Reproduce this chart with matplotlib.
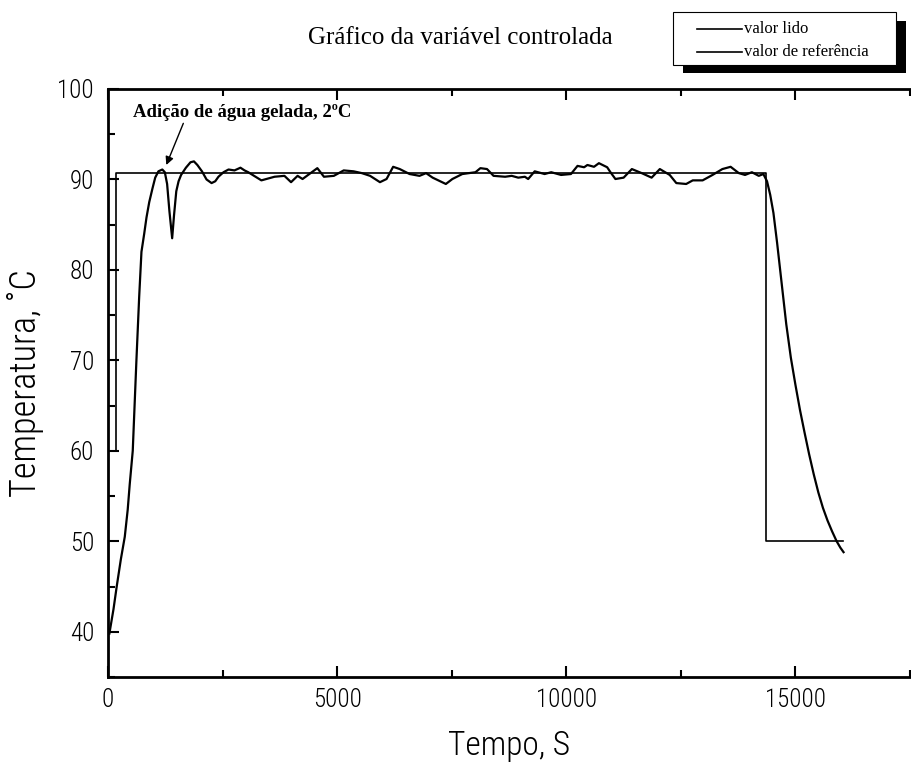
import matplotlib
matplotlib.use("Agg")
import matplotlib.pyplot as plt
from matplotlib.patches import Rectangle
from matplotlib.lines import Line2D

# setpoint (valor de referência)
ref_t = [0, 170, 170, 14350, 14350, 16030]
ref_T = [60, 60, 90.7, 90.7, 50, 50]

# measured temperature (valor lido)
meas_t = [30, 120, 190, 280, 366, 430, 474, 540, 580, 620, 680, 730, 790, 840,
          900, 970, 1030, 1100, 1185, 1240, 1290, 1340, 1400, 1440, 1490, 1540,
          1595, 1700, 1800, 1875, 1950, 2050, 2150, 2260, 2340, 2410, 2520,
          2630, 2760, 2890, 2980, 3060, 3347, 3634, 3850, 3994, 4137, 4245,
          4568, 4712, 4928, 5143, 5359, 5539, 5719, 5934, 6078, 6222, 6366,
          6581, 6797, 6941, 7084, 7372, 7515, 7731, 8018, 8126, 8270, 8413,
          8665, 8809, 8952, 9096, 9168, 9311, 9527, 9671, 9886, 10102, 10245,
          10389, 10461, 10605, 10712, 10892, 10964, 11072, 11251, 11431, 11646,
          11862, 12041, 12257, 12401, 12616, 12760, 12975, 13191, 13406, 13586,
          13765, 13900, 14050, 14200, 14300, 14380, 14450, 14520, 14600, 14700,
          14800, 14900, 15000, 15100, 15200, 15300, 15400, 15500, 15600, 15700,
          15800, 15900, 15980, 16050]
meas_T = [39.8, 42.5, 45.0, 48.0, 50.5, 53.5, 56.3, 60.0, 65.0, 70.0, 77.0,
          82.0, 84.0, 85.8, 87.5, 89.0, 90.2, 90.9, 91.1, 90.8, 89.5, 86.5,
          83.5, 86.0, 88.7, 89.8, 90.5, 91.3, 91.9, 92.0, 91.6, 90.9, 90.0,
          89.6, 89.8, 90.3, 90.8, 91.1, 91.0, 91.3, 91.0, 90.8, 89.9, 90.3,
          90.4, 89.7, 90.4, 90.05, 91.25, 90.3, 90.4, 91.0, 90.9, 90.7, 90.4,
          89.7, 90.05, 91.4, 91.15, 90.6, 90.4, 90.7, 90.2, 89.5, 90.05, 90.6,
          90.8, 91.25, 91.15, 90.4, 90.3, 90.4, 90.2, 90.3, 90.05, 90.9, 90.6,
          90.8, 90.5, 90.6, 91.5, 91.35, 91.6, 91.4, 91.8, 91.35, 90.8, 90.05,
          90.2, 91.15, 90.7, 90.2, 91.15, 90.5, 89.6, 89.5, 89.9, 89.9, 90.5,
          91.15, 91.4, 90.7, 90.5, 90.8, 90.4, 90.6, 89.8, 88.3, 86.3, 83.0,
          78.5, 74.0, 70.3, 67.3, 64.5, 62.0, 59.6, 57.4, 55.4, 53.7, 52.3,
          51.1, 50.0, 49.3, 48.8]

x_major = [0, 5000, 10000, 15000]
x_minor = [2500, 7500, 12500, 17500]
y_major = [40, 50, 60, 70, 80, 90, 100]
y_minor = [35, 45, 55, 65, 75, 85, 95]

W, H = 911, 767
narrow = ["Roboto Condensed", "Open Sans Condensed", "DejaVu Sans"]
serif = ["Liberation Serif", "DejaVu Serif"]


def fx(px):
    return px / W


def fy(py):
    return 1 - py / H


fig = plt.figure(figsize=(W / 100, H / 100), dpi=100)
ax = fig.add_axes([fx(108), fy(677), (910 - 108) / W, (677 - 89) / H])

ax.plot(ref_t, ref_T, color="black", lw=1.2)
ax.plot(meas_t, meas_T, color="black", lw=1.6)

ax.set_xlim(0, 17300)
ax.set_ylim(35, 100)
ax.set_xticks(x_major)
ax.set_xticks(x_minor, minor=True)
ax.set_yticks(y_major)
ax.set_yticks(y_minor, minor=True)

ax.spines["right"].set_visible(False)
for s in ("left", "bottom", "top"):
    ax.spines[s].set_linewidth(2)
ax.tick_params(which="both", direction="in", top=True, right=False, width=1.5)
ax.tick_params(which="major", length=8)
ax.tick_params(which="minor", length=5)
ax.tick_params(axis="x", pad=8)
ax.tick_params(axis="y", pad=10)
for lab in ax.get_xticklabels() + ax.get_yticklabels():
    lab.set_fontfamily(narrow)
    lab.set_fontstretch("condensed")
    lab.set_fontweight("light")
    lab.set_fontsize(18)

ax.set_xlabel("Tempo, S", fontfamily=narrow, fontstretch="condensed",
              fontweight="light", fontsize=24, labelpad=13)
ax.set_ylabel("Temperatura, ˚C", fontfamily=narrow, fontstretch="condensed",
              fontweight="light", fontsize=26, labelpad=10)

ax.annotate("Adição de água gelada, 2ºC", xy=(1272, 91.6), xytext=(540, 97.45),
            fontfamily=serif, fontweight="bold", fontsize=13.5,
            ha="left", va="center",
            arrowprops=dict(arrowstyle="-|>", color="black", lw=1,
                            mutation_scale=12, relpos=(0.24, 0.1),
                            shrinkA=0, shrinkB=0))

fig.text(fx(460), fy(38), "Gráfico da variável controlada", ha="center",
         va="center", fontfamily=serif, fontsize=18)

# legend box with a solid drop shadow
fig.add_artist(Rectangle((fx(683), fy(73)), (906 - 683) / W, (73 - 21) / H,
                         transform=fig.transFigure, facecolor="black",
                         edgecolor="none"))
fig.add_artist(Rectangle((fx(673), fy(65)), (896 - 673) / W, (65 - 12) / H,
                         transform=fig.transFigure, facecolor="white",
                         edgecolor="black", lw=0.8))
for py, name in ((29, "valor lido"), (52, "valor de referência")):
    fig.add_artist(Line2D([fx(697), fx(742)], [fy(py), fy(py)],
                          transform=fig.transFigure, color="black", lw=1.2))
    fig.text(fx(744), fy(py), name, ha="left", va="center",
             fontfamily=serif, fontsize=12)

fig.savefig("out.png", dpi=100)
